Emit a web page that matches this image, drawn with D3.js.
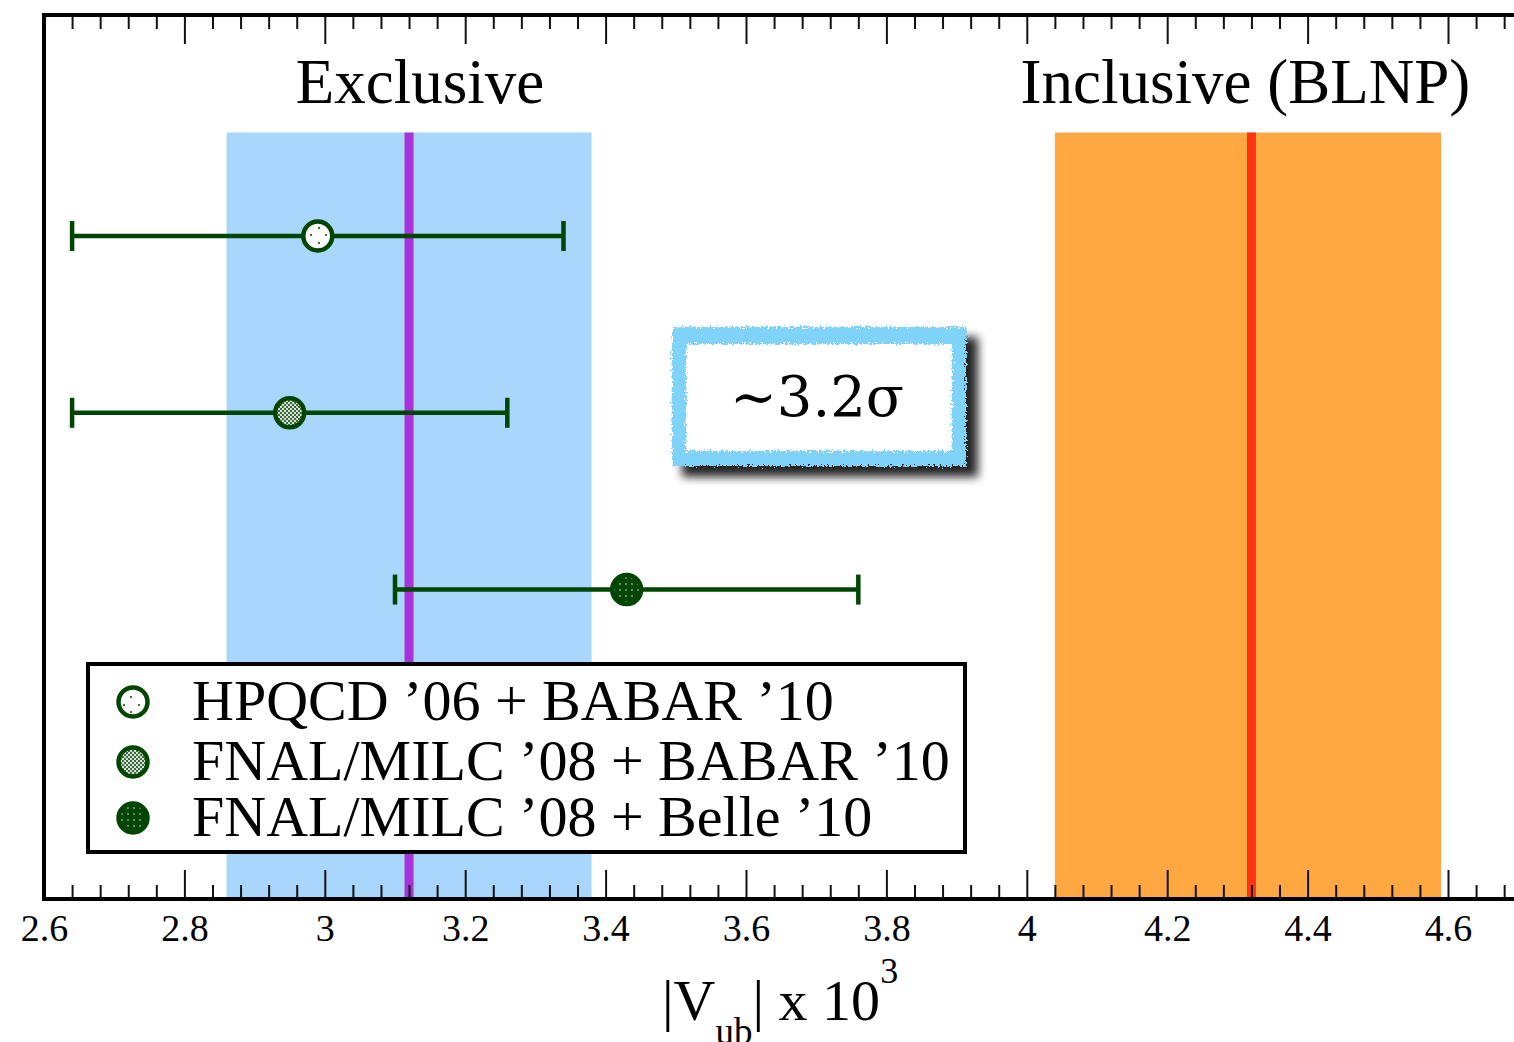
<!DOCTYPE html>
<html>
<head>
<meta charset="utf-8">
<script src="https://cdn.jsdelivr.net/npm/d3@7"></script>
<style>
  html, body { margin: 0; padding: 0; background: #fff; }
  svg { display: block; }
</style>
</head>
<body>
<svg id="chart" width="1514" height="1042"></svg>
<script>
// ---------------- data ----------------
const xDomain = [2.6, 4.7];
const majorTicks = [2.6, 2.8, 3.0, 3.2, 3.4, 3.6, 3.8, 4.0, 4.2, 4.4, 4.6];
const majorTickLabels = ["2.6", "2.8", "3", "3.2", "3.4", "3.6", "3.8", "4", "4.2", "4.4", "4.6"];
const minorStep = 0.04;

const bandNames = ["Exclusive", "Inclusive (BLNP)"];
const bandCentral = [3.12, 4.32];
const bandLow = [2.86, 4.04];
const bandHigh = [3.38, 4.59];
const bandTopY = 8.67;          // in y-units (0..10)

const seriesNames = ["HPQCD \u201906 + BABAR \u201910",
                     "FNAL/MILC \u201908 + BABAR \u201910",
                     "FNAL/MILC \u201908 + Belle \u201910"];
const seriesValue = [2.99, 2.95, 3.43];
const seriesLow   = [2.64, 2.64, 3.10];
const seriesHigh  = [3.34, 3.26, 3.76];
const seriesRow   = [7.5, 5.5, 3.5];   // y-units

const annotationText = "~3.2\u03c3";

// ---------------- layout ----------------
const svg = d3.select("#chart");
const plotLeft = 44, plotTop = 15, plotBottom = 899;
const x = d3.scaleLinear().domain(xDomain).range([plotLeft, plotLeft + 702 * (xDomain[1] - xDomain[0])]);
const y = d3.scaleLinear().domain([0, 10]).range([plotBottom, plotTop]);

const green = "#004600";
const serif = "'Liberation Serif', 'Times New Roman', serif";

// ---------------- defs ----------------
const defs = svg.append("defs");
// HPQCD: white with sparse dots
const p1 = defs.append("pattern").attr("id", "pat1").attr("patternUnits", "userSpaceOnUse")
  .attr("width", 15).attr("height", 15);
p1.append("rect").attr("width", 15).attr("height", 15).attr("fill", "#fff");
p1.append("circle").attr("cx", 4).attr("cy", 3).attr("r", 1).attr("fill", green);
p1.append("circle").attr("cx", 11).attr("cy", 10).attr("r", 1).attr("fill", green);
// FNAL/BABAR: fine checker
const p2 = defs.append("pattern").attr("id", "pat2").attr("patternUnits", "userSpaceOnUse")
  .attr("width", 4).attr("height", 4);
p2.append("rect").attr("width", 4).attr("height", 4).attr("fill", "#d6e2d6");
p2.append("rect").attr("width", 2).attr("height", 2).attr("fill", "#3d6b3d");
p2.append("rect").attr("x", 2).attr("y", 2).attr("width", 2).attr("height", 2).attr("fill", "#3d6b3d");
// FNAL/Belle: dark with light dots
const p3 = defs.append("pattern").attr("id", "pat3").attr("patternUnits", "userSpaceOnUse")
  .attr("width", 6).attr("height", 6);
p3.append("rect").attr("width", 6).attr("height", 6).attr("fill", green);
p3.append("circle").attr("cx", 2).attr("cy", 2).attr("r", 0.9).attr("fill", "#8fae8f");
const fills = ["url(#pat1)", "url(#pat2)", "url(#pat3)"];

// rough edge filter
const rough = defs.append("filter").attr("id", "rough")
  .attr("x", "-10%").attr("y", "-10%").attr("width", "120%").attr("height", "120%");
rough.append("feTurbulence").attr("type", "fractalNoise").attr("baseFrequency", 0.5)
  .attr("numOctaves", 3).attr("seed", 3).attr("result", "noise");
rough.append("feDisplacementMap").attr("in", "SourceGraphic").attr("in2", "noise")
  .attr("scale", 9).attr("xChannelSelector", "R").attr("yChannelSelector", "G");
// shadow filter
const shadow = defs.append("filter").attr("id", "shadow")
  .attr("x", "-20%").attr("y", "-20%").attr("width", "140%").attr("height", "140%");
shadow.append("feGaussianBlur").attr("stdDeviation", 5);

// ---------------- bands ----------------
const bandColors = ["#a8d6fd", "#ffa842"];
const lineColors = ["#a834d9", "#ff3410"];
const titleShift = [11, -6];
const bands = bandNames.map((n, i) => ({ name: n, c: bandCentral[i], lo: bandLow[i], hi: bandHigh[i], shift: titleShift[i] }));

svg.append("g").selectAll("rect").data(bands).join("rect")
  .attr("x", d => x(d.lo)).attr("width", d => x(d.hi) - x(d.lo))
  .attr("y", y(bandTopY)).attr("height", y(0) - y(bandTopY))
  .attr("fill", (d, i) => bandColors[i]);

svg.append("g").selectAll("line").data(bands).join("line")
  .attr("x1", d => x(d.c)).attr("x2", d => x(d.c))
  .attr("y1", y(bandTopY)).attr("y2", y(0))
  .attr("stroke", (d, i) => lineColors[i]).attr("stroke-width", 9);

// band titles
svg.append("g").selectAll("text").data(bands).join("text")
  .attr("x", d => x(d.c) + d.shift)
  .attr("y", 103)
  .attr("text-anchor", "middle")
  .attr("font-family", serif).attr("font-size", 63).attr("fill", "#000")
  .text(d => d.name);

// ---------------- error bars ----------------
const pts = seriesNames.map((n, i) => ({ name: n, v: seriesValue[i], lo: seriesLow[i], hi: seriesHigh[i], row: seriesRow[i], fill: fills[i] }));
const eb = svg.append("g").attr("stroke", green).attr("stroke-width", 4.5).attr("fill", "none");
eb.selectAll(".h").data(pts).join("line").attr("class", "h")
  .attr("x1", d => x(d.lo)).attr("x2", d => x(d.hi))
  .attr("y1", d => y(d.row)).attr("y2", d => y(d.row));
eb.selectAll(".cl").data(pts).join("line").attr("class", "cl")
  .attr("x1", d => x(d.lo)).attr("x2", d => x(d.lo))
  .attr("y1", d => y(d.row) - 15).attr("y2", d => y(d.row) + 15);
eb.selectAll(".ch").data(pts).join("line").attr("class", "ch")
  .attr("x1", d => x(d.hi)).attr("x2", d => x(d.hi))
  .attr("y1", d => y(d.row) - 15).attr("y2", d => y(d.row) + 15);
svg.append("g").selectAll("circle").data(pts).join("circle")
  .attr("cx", d => x(d.v)).attr("cy", d => y(d.row)).attr("r", 14.5)
  .attr("fill", d => d.fill).attr("stroke", green).attr("stroke-width", 4.5);

// ---------------- legend ----------------
const lg = svg.append("g");
lg.append("rect").attr("x", 88).attr("y", 664).attr("width", 877).attr("height", 188)
  .attr("fill", "#fff").attr("stroke", "#000").attr("stroke-width", 4);
const legendRowY = [702, 762, 818];
const li = lg.selectAll("g.item").data(pts).join("g").attr("class", "item")
  .attr("transform", (d, i) => `translate(0,${legendRowY[i]})`);
li.append("circle").attr("cx", 133).attr("cy", 0).attr("r", 14.5)
  .attr("fill", d => d.fill).attr("stroke", green).attr("stroke-width", 4.5);
li.append("text").attr("x", 192).attr("y", 18)
  .attr("font-family", serif).attr("font-size", 58).attr("fill", "#000")
  .text(d => d.name);

// ---------------- annotation box ----------------
const ab = svg.append("g");
ab.append("rect").attr("x", 682).attr("y", 337).attr("width", 296).attr("height", 140)
  .attr("fill", "#000").attr("opacity", 0.85).attr("filter", "url(#shadow)");
ab.append("rect").attr("x", 672).attr("y", 327).attr("width", 294).attr("height", 139)
  .attr("fill", "#7fd3f9").attr("filter", "url(#rough)");
ab.append("rect").attr("x", 686).attr("y", 344).attr("width", 266).attr("height", 107)
  .attr("fill", "#fff").attr("filter", "url(#rough)");
ab.append("text").attr("x", 817).attr("y", 416).attr("text-anchor", "middle")
  .attr("font-family", "'DejaVu Serif', serif").attr("font-size", 56).attr("fill", "#000")
  .text(annotationText);

// ---------------- axes ----------------
const minorTicks = d3.range(0, 53).filter(i => i % 5 !== 0).map(i => xDomain[0] + i * minorStep);

const axB = svg.append("g").attr("transform", `translate(0,${plotBottom})`)
  .call(d3.axisBottom(x).tickValues(majorTicks).tickSizeInner(-29).tickSizeOuter(0)
    .tickPadding(15).tickFormat((d, i) => majorTickLabels[i]));
axB.select(".domain").remove();
axB.selectAll("line").attr("stroke", "#111").attr("stroke-width", 2);
axB.selectAll("text").attr("font-family", serif).attr("font-size", 38).attr("fill", "#000");

const axBm = svg.append("g").attr("transform", `translate(0,${plotBottom})`)
  .call(d3.axisBottom(x).tickValues(minorTicks).tickSizeInner(-14).tickSizeOuter(0).tickFormat(""));
axBm.select(".domain").remove();
axBm.selectAll("line").attr("stroke", "#111").attr("stroke-width", 2);

const axT = svg.append("g").attr("transform", `translate(0,${plotTop})`)
  .call(d3.axisTop(x).tickValues(majorTicks).tickSizeInner(-29).tickSizeOuter(0).tickFormat(""));
axT.select(".domain").remove();
axT.selectAll("line").attr("stroke", "#111").attr("stroke-width", 2);

const axTm = svg.append("g").attr("transform", `translate(0,${plotTop})`)
  .call(d3.axisTop(x).tickValues(minorTicks).tickSizeInner(-14).tickSizeOuter(0).tickFormat(""));
axTm.select(".domain").remove();
axTm.selectAll("line").attr("stroke", "#111").attr("stroke-width", 2);

// frame
svg.append("path")
  .attr("d", `M${x(xDomain[1]) + 2},${plotTop} H${plotLeft} V${plotBottom} H${x(xDomain[1]) + 2}`)
  .attr("fill", "none").attr("stroke", "#000").attr("stroke-width", 4);

// axis title
const tt = svg.append("text").attr("x", 662).attr("y", 1020)
  .attr("font-family", serif).attr("font-size", 58).attr("fill", "#000");
tt.append("tspan").text("|V");
tt.append("tspan").attr("font-size", 37).attr("dy", 24).text("ub");
tt.append("tspan").attr("dy", -24).text("| x 10");
tt.append("tspan").attr("font-size", 36).attr("dy", -37).text("3");
</script>
</body>
</html>
